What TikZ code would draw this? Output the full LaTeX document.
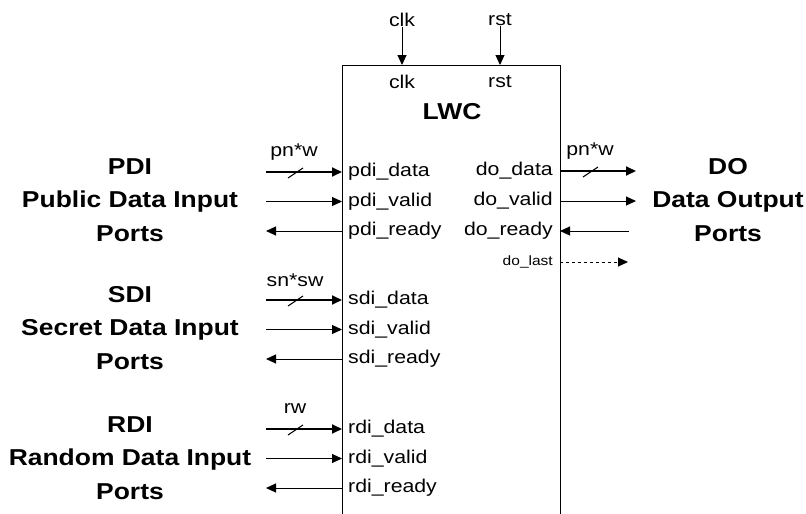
\documentclass[tikz,border=0pt]{standalone}
\usepackage{fontspec}
\setmainfont[FakeStretch=1.15]{Liberation Sans}
\usetikzlibrary{arrows.meta}
\tikzset{
    port-label/.style = {inner sep=0pt, font=\fontsize{18.5}{22}\selectfont},
    group-label/.style = {inner sep=0pt, align=center, font=\fontsize{23}{33.5}\selectfont\bfseries},
    sig/.style = {line width=1pt, -{Triangle[length=10pt,width=9pt]}},
    bus/.style = {sig, line width=2pt},
    bus-slash/.style = {line width=1pt},
}
\begin{document}
\begin{tikzpicture}[x=1pt, y=-1pt]
\useasboundingbox (0,0) rectangle (806,514);
% LWC box, open at the bottom
\coordinate (lwc-nw) at (342,65);
\coordinate (lwc-ne) at (560,65);
\draw[line width=1pt] (342,520) -- (lwc-nw) -- (lwc-ne) -- (560,520);
\node[inner sep=0pt, font=\fontsize{23}{23}\selectfont\bfseries] (lwc) at (452,112) {LWC};

% clock and reset
\node[port-label] (clk-in) at (402,20) {clk};
\node[port-label] (rst-in) at (500,20) {rst};
\node[port-label] (clk) at (402,82) {clk};
\node[port-label] (rst) at (500,82) {rst};
\draw[sig] (clk-in) -- (402,65);
\draw[sig] (rst-in) -- (500,65);

% left ports
\foreach \grp/\y in {pdi/172, sdi/300, rdi/429} {
    \coordinate (\grp-data-out) at (266,\y);
    \coordinate (\grp-data-in) at (342,\y);
    \coordinate (\grp-valid-out) at (266,\y+29.5);
    \coordinate (\grp-valid-in) at (342,\y+29.5);
    \coordinate (\grp-ready-out) at (266,\y+59);
    \coordinate (\grp-ready-in) at (342,\y+59);
    \node[port-label, anchor=west] (\grp-data) at (348,\y) {\grp\_data};
    \node[port-label, anchor=west] (\grp-valid) at (348,\y+29.5) {\grp\_valid};
    \node[port-label, anchor=west] (\grp-ready) at (348,\y+59) {\grp\_ready};
    \draw[bus] (\grp-data-out) -- (\grp-data-in);
    \draw[bus-slash] (288,\y+6) -- (303,\y-4);
    \draw[sig] (\grp-valid-out) -- (\grp-valid-in);
    \draw[sig] (\grp-ready-in) -- (\grp-ready-out);
}
\node[port-label] (pdi-width) at (294,152) {pn*w};
\node[port-label] (sdi-width) at (295,280) {sn*sw};
\node[port-label] (rdi-width) at (295,409) {rw};

% right ports
\coordinate (do-data-in) at (560,171);
\coordinate (do-data-out) at (636,171);
\coordinate (do-valid-in) at (560,201);
\coordinate (do-valid-out) at (636,201);
\coordinate (do-ready-in) at (560,231);
\coordinate (do-ready-out) at (629,231);
\coordinate (do-last-in) at (560,262);
\coordinate (do-last-out) at (628,262);
\node[port-label, anchor=east] (do-data) at (553,171) {do\_data};
\node[port-label, anchor=east] (do-valid) at (553,201) {do\_valid};
\node[port-label, anchor=east] (do-ready) at (553,231) {do\_ready};
\node[port-label, anchor=east, font=\fontsize{13.5}{14}\selectfont] (do-last) at (553,262) {do\_last};
\draw[bus] (do-data-in) -- (do-data-out);
\draw[bus-slash] (583,177) -- (598,167);
\draw[sig] (do-valid-in) -- (do-valid-out);
\draw[sig] (do-ready-out) -- (do-ready-in);
\draw[sig, dashed] (do-last-in) -- (do-last-out);
\node[port-label] (do-width) at (590,151) {pn*w};

% group labels
\node[group-label] (pdi-group) at (130,200) {PDI\\Public Data Input\\Ports};
\node[group-label] (sdi-group) at (130,328) {SDI\\Secret Data Input\\Ports};
\node[group-label] (rdi-group) at (130,458) {RDI\\Random Data Input\\Ports};
\node[group-label] (do-group) at (728,200) {DO\\Data Output\\Ports};
\end{tikzpicture}
\end{document}
